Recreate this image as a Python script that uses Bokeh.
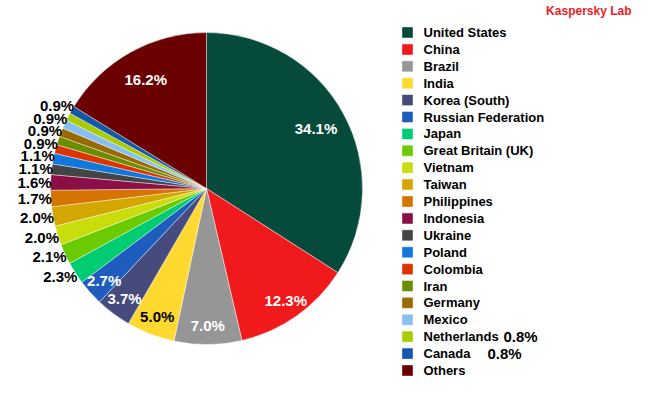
import numpy as np
from bokeh.plotting import figure
from bokeh.models import Range1d, ColumnDataSource
from bokeh.core.properties import value
from bokeh.embed import file_html
from bokeh.resources import INLINE

# ---- data ----
countries = ["United States", "China", "Brazil", "India", "Korea (South)",
             "Russian Federation", "Japan", "Great Britain (UK)", "Vietnam",
             "Taiwan", "Philippines", "Indonesia", "Ukraine", "Poland",
             "Colombia", "Iran", "Germany", "Mexico", "Netherlands", "Canada",
             "Others"]
shares = [34.1, 12.3, 7.0, 5.0, 3.7, 2.7, 2.3, 2.1, 2.0, 2.0, 1.7, 1.6, 1.1,
          1.1, 0.9, 0.9, 0.9, 0.9, 0.8, 0.8, 16.2]
colors = ["#064a3c", "#f0191c", "#969696", "#ffd92f", "#474a7c", "#1e5dbd",
          "#00cc73", "#6ccb00", "#c9dc0c", "#d4a700", "#d57400", "#8a0f46",
          "#444444", "#1177dd", "#dd3300", "#6b8e00", "#9a6a00", "#88bff0",
          "#a8cc00", "#1557a8", "#6b0000"]
title_text = "Kaspersky Lab"

# ---- layout constants (image pixel coordinates) ----
W, H = 634, 384
CX, CY_IMG, R = 206, 188, 156
FONT = value("Liberation Sans")


def Y(img_y):
    return 400 - img_y


p = figure(width=W, height=H, x_range=Range1d(0, 634), y_range=Range1d(16, 400),
           output_backend="svg", toolbar_location=None, min_border=0)
p.xaxis.visible = False
p.yaxis.visible = False
p.grid.visible = False
p.outline_line_color = None
p.background_fill_color = "white"
p.border_fill_color = "white"

vals = np.array(shares, dtype=float)
fr = vals / vals.sum()
cum = np.concatenate([[0.0], np.cumsum(fr)])
start = np.pi / 2 - 2 * np.pi * cum[:-1]
end = np.pi / 2 - 2 * np.pi * cum[1:]
mid = np.pi / 2 - 2 * np.pi * (cum[:-1] + cum[1:]) / 2

src = ColumnDataSource(dict(start=start, end=end, color=colors))
p.wedge(x=CX, y=Y(CY_IMG), radius=R, start_angle="start", end_angle="end",
        direction="clock", fill_color="color", line_color="white",
        line_width=0.6, line_alpha=0.7, source=src)


def lum(hexc):
    r, g, b = (int(hexc[i:i + 2], 16) / 255 for i in (1, 3, 5))
    return 0.299 * r + 0.587 * g + 0.114 * b


labels = [f"{v:.1f}%" for v in shares]
RO = R + 6

ix, iy, it, ic = [], [], [], []
out_items = []
legend_lbl = []
for i, v in enumerate(shares):
    a = mid[i]
    if v >= 2.5:
        rr = 0.8 * R if fr[i] > 0.15 else 0.88 * R
        ix.append(CX + rr * np.cos(a))
        iy.append(Y(CY_IMG) + rr * np.sin(a))
        it.append(labels[i])
        ic.append("black" if lum(colors[i]) > 0.7 else "white")
    elif v >= 0.85:
        py_img = CY_IMG - RO * np.sin(a)
        out_items.append([np.sign(np.cos(a)), py_img, labels[i]])
    else:
        legend_lbl.append(i)

# spread outside labels from the bottom upward, keep them on the outer circle
out_items.sort(key=lambda t: -t[1])
for k in range(1, len(out_items)):
    if out_items[k - 1][1] - out_items[k][1] < 12.5:
        out_items[k][1] = out_items[k - 1][1] - 12.5
ox = []
for sgn, yy, _ in out_items:
    dy = CY_IMG - yy
    ox.append(CX + sgn * np.sqrt(max(RO ** 2 - dy ** 2, 0)) + 7)

p.text(x=ix, y=iy, text=it, text_color=ic, text_font=FONT,
       text_font_style="bold", text_font_size="15px",
       text_align="center", text_baseline="middle")
p.text(x=ox, y=[Y(t[1]) for t in out_items],
       text=[t[2] for t in out_items], text_color="black", text_font=FONT,
       text_font_style="bold", text_font_size="15px",
       text_align="right", text_baseline="middle")

# legend
LX_SQ, LX_TX, LY0, LDY = 407, 423, 32, 16.9
ly = [Y(LY0 + k * LDY) for k in range(len(countries))]
p.rect(x=[LX_SQ] * len(countries), y=ly, width=10, height=10,
       fill_color=colors, line_color=colors, line_alpha=0.6)
p.text(x=[LX_TX] * len(countries), y=ly, text=countries, text_color="black",
       text_font=FONT, text_font_style="bold", text_font_size="13px",
       text_align="left", text_baseline="middle")

# labels of the smallest slices, shown next to the legend
extra_x = [503, 487]
p.text(x=extra_x[:len(legend_lbl)], y=[ly[i] for i in legend_lbl],
       text=[labels[i] for i in legend_lbl], text_color="black",
       text_font=FONT, text_font_style="bold", text_font_size="15px",
       text_align="left", text_baseline="middle")

# title
p.text(x=[631], y=[Y(3)], text=[title_text], text_color="#ee2024",
       text_font=FONT, text_font_style="bold", text_font_size="12px",
       text_align="right", text_baseline="top")

open("out.html", "w").write(file_html(p, INLINE))
